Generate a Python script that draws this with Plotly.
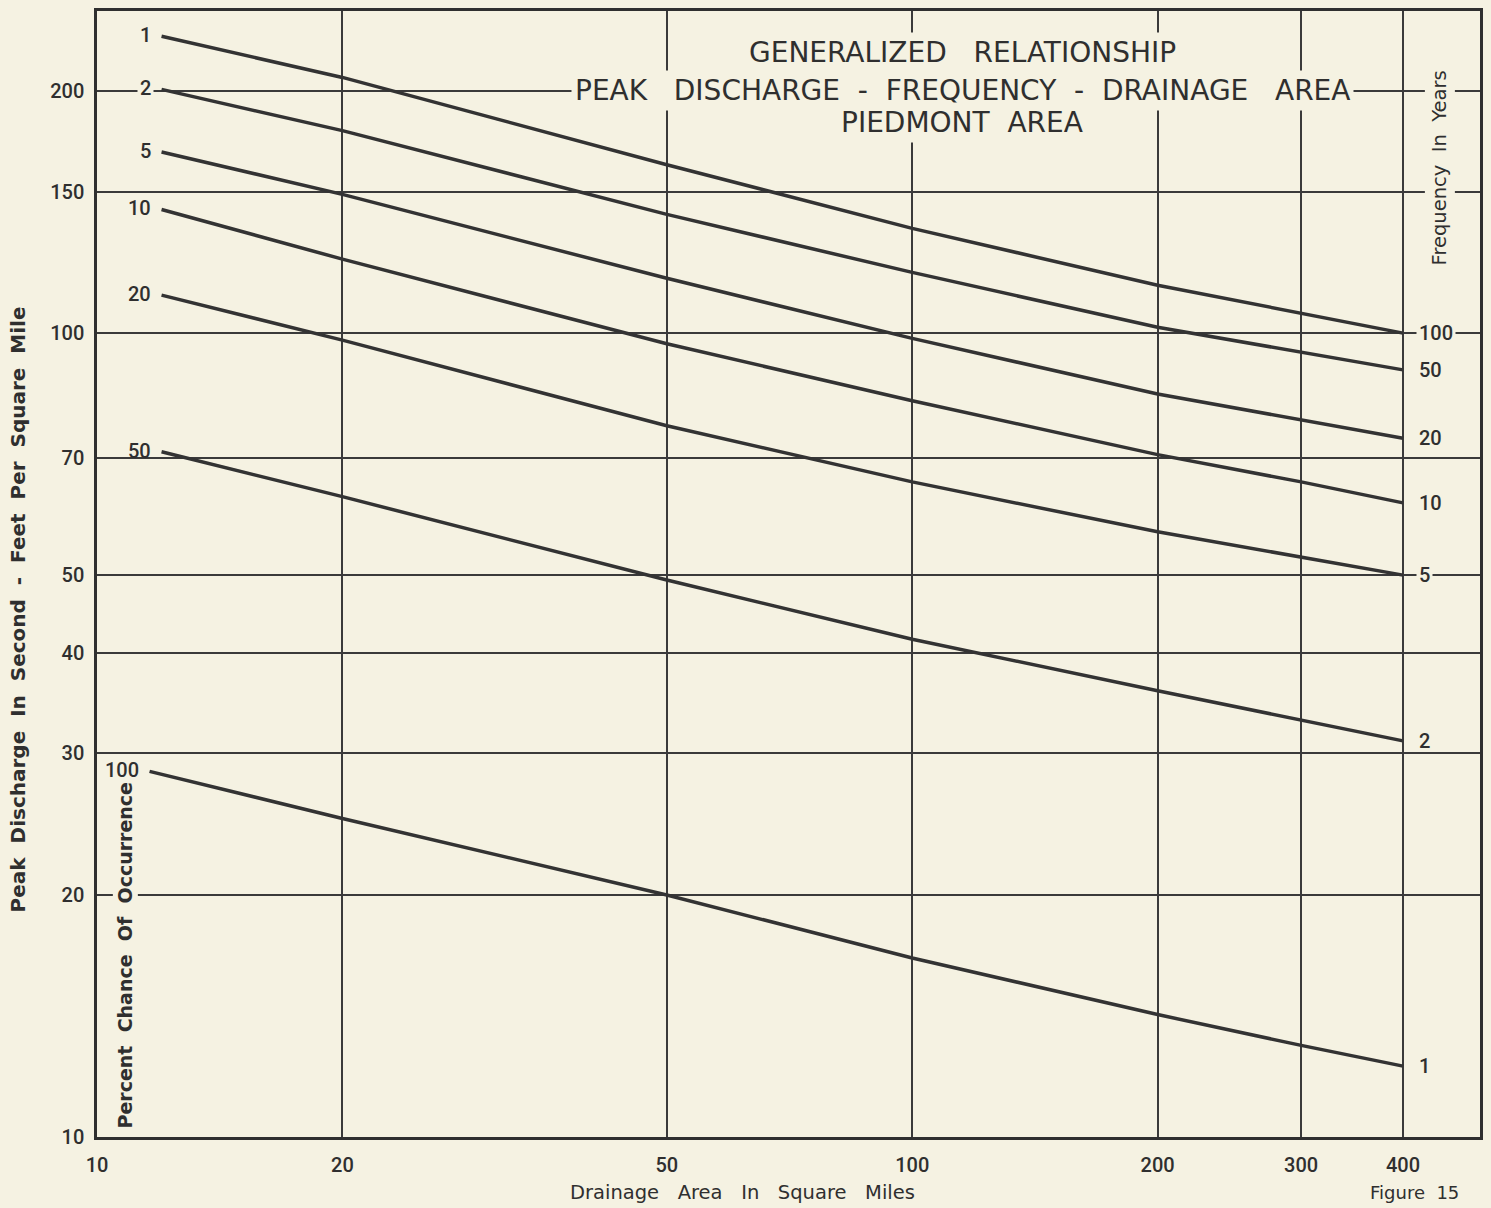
import numpy as np
import plotly.graph_objects as go

# ---------------- data ----------------
area_sq_mi = [12, 20, 50, 100, 200, 300, 400]
area_sq_mi_1yr = [11.6, 20, 50, 100, 200, 300, 400]

q_100yr = [234.0, 208.0, 162.0, 135.0, 114.7, 105.8, 100.0]
q_50yr = [201.0, 178.6, 140.5, 119.0, 101.7, 94.7, 90.0]
q_20yr = [168.0, 148.8, 117.0, 98.5, 84.0, 78.0, 74.0]
q_10yr = [142.5, 123.6, 97.0, 82.4, 70.6, 65.3, 61.5]
q_5yr = [111.5, 98.0, 76.7, 65.3, 56.6, 52.6, 50.0]
q_2yr = [71.2, 62.6, 49.3, 41.6, 35.9, 33.0, 31.1]
q_1yr = [28.5, 24.9, 20.0, 16.7, 14.2, 13.0, 12.25]

pct_chance_labels = ["1", "2", "5", "10", "20", "50", "100"]
freq_year_labels = ["100", "50", "20", "10", "5", "2", "1"]

x_tick_vals = [10, 20, 50, 100, 200, 300, 400]
x_tick_text = ["10", "20", "50", "100", "200", "300", "400"]
y_tick_vals = [10, 20, 30, 40, 50, 70, 100, 150, 200]
y_tick_text = ["10", "20", "30", "40", "50", "70", "100", "150", "200"]

S2 = "\u00a0 "
S3 = "\u00a0\u00a0 "
title_lines = [
    "GENERALIZED" + S3 + "RELATIONSHIP",
    "PEAK" + S3 + "DISCHARGE" + S2 + "-" + S2 + "FREQUENCY" + S2 + "-" + S2 + "DRAINAGE" + S3 + "AREA",
    "PIEDMONT" + S2 + "AREA",
]
x_title = S3.join(["Drainage", "Area", "In", "Square", "Miles"])
y_title = S2.join(["Peak", "Discharge", "In", "Second", "-", "Feet", "Per", "Square", "Mile"])
right_title = S2.join(["Frequency", "In", "Years"])
inner_title = S2.join(["Percent", "Chance", "Of", "Occurrence"])
figure_label = "Figure" + S2 + "15"

# ---------------- styling ----------------
BG = "#f5f2e2"
INK = "#2f2f2f"
NUMFONT = "Roboto"
TXTFONT = "DejaVu Sans"

series = [
    (area_sq_mi, q_100yr),
    (area_sq_mi, q_50yr),
    (area_sq_mi, q_20yr),
    (area_sq_mi, q_10yr),
    (area_sq_mi, q_5yr),
    (area_sq_mi, q_2yr),
    (area_sq_mi_1yr, q_1yr),
]

fig = go.Figure()
for (xs, ys), lab in zip(series, freq_year_labels):
    fig.add_trace(go.Scatter(
        x=xs, y=ys, mode="lines", name=lab + " yr",
        line=dict(color="#333333", width=3.5),
        showlegend=False, hoverinfo="skip",
    ))

numfont = dict(family=NUMFONT, size=20, color=INK, weight=500)


def label_bg(value):
    # labels sitting on a grid line interrupt it
    on_grid = any(abs(value / t - 1) < 0.015 for t in y_tick_vals)
    return BG if on_grid else "rgba(0,0,0,0)"


annotations = []

# inner rotated label (drawn first so the curve labels sit on top)
annotations.append(dict(
    x=0.0202, y=0.162, xref="paper", yref="paper", text=inner_title,
    textangle=-90, showarrow=False, xanchor="center", yanchor="middle",
    bgcolor=BG, borderpad=1,
    font=dict(family=TXTFONT, size=19, color=INK, weight="bold"),
))
annotations.append(dict(
    x=0.971, y=0.861, xref="paper", yref="paper", text=right_title,
    textangle=-90, showarrow=False, xanchor="center", yanchor="middle",
    bgcolor=BG, borderpad=3,
    font=dict(family=TXTFONT, size=19.5, color=INK),
))

# left-end labels (percent chance)
for (xs, ys), lab in zip(series, pct_chance_labels):
    annotations.append(dict(
        x=np.log10(xs[0]), y=np.log10(ys[0]), xref="x", yref="y",
        text=lab, showarrow=False, xanchor="right", yanchor="middle",
        xshift=-8, yshift=1, bgcolor=label_bg(ys[0]), borderpad=2,
        font=numfont,
    ))
# right-end labels (frequency in years)
for (xs, ys), lab in zip(series, freq_year_labels):
    annotations.append(dict(
        x=np.log10(xs[-1]), y=np.log10(ys[-1]), xref="x", yref="y",
        text=lab, showarrow=False, xanchor="left", yanchor="middle",
        xshift=13, bgcolor=label_bg(ys[-1]), borderpad=2,
        font=numfont,
    ))

# title block
for txt, yp in zip(title_lines, [0.9628, 0.9291, 0.9008]):
    annotations.append(dict(
        x=0.6255, y=yp, xref="paper", yref="paper", text=txt,
        showarrow=False, xanchor="center", yanchor="middle",
        bgcolor=BG, borderpad=3,
        font=dict(family=TXTFONT, size=28, color=INK),
    ))

# axis titles
annotations.append(dict(
    x=0.4664, y=-0.0496, xref="paper", yref="paper", text=x_title,
    showarrow=False, xanchor="center", yanchor="middle",
    font=dict(family=TXTFONT, size=19.5, color=INK),
))
annotations.append(dict(
    x=0.953, y=-0.0496, xref="paper", yref="paper", text=figure_label,
    showarrow=False, xanchor="center", yanchor="middle",
    font=dict(family=TXTFONT, size=18, color=INK),
))
annotations.append(dict(
    x=-0.0571, y=0.4686, xref="paper", yref="paper", text=y_title,
    textangle=-90, showarrow=False, xanchor="center", yanchor="middle",
    font=dict(family=TXTFONT, size=20, color=INK, weight="bold"),
))

axis_common = dict(
    type="log", showgrid=True, gridcolor="#3a3a3a", gridwidth=1.5,
    showline=True, mirror=True, linecolor=INK, linewidth=2.5,
    ticks="", zeroline=False, tickfont=numfont,
)

fig.update_layout(
    width=1491, height=1208,
    margin=dict(l=97, r=11, t=8, b=71),
    paper_bgcolor=BG, plot_bgcolor=BG,
    xaxis=dict(range=[1, 2.6965], tickvals=x_tick_vals, ticktext=x_tick_text,
               ticklabelstandoff=8, **axis_common),
    yaxis=dict(range=[1, 2.4007], tickvals=y_tick_vals, ticktext=y_tick_text,
               ticklabelstandoff=6, **axis_common),
    annotations=annotations,
    font=dict(family=NUMFONT, color=INK),
)

fig.write_html("out.html")
